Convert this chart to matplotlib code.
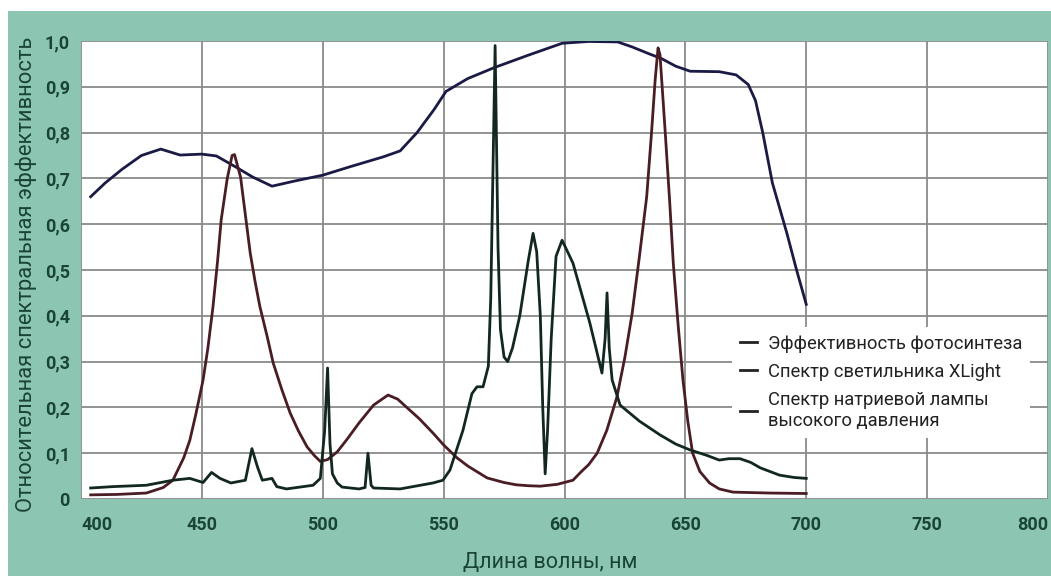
import matplotlib
matplotlib.use("Agg")
import matplotlib.pyplot as plt
from matplotlib.patches import Rectangle

# wavelength (nm) / relative values
photo_nm = [404, 410, 417, 425, 433, 441, 450, 456, 464, 471, 479, 489, 500, 511, 525, 532,
            539, 546, 551, 560, 571, 585, 599, 610, 622, 628, 635, 640, 646, 652, 664, 671,
            676, 679, 682, 686, 692, 696, 700]
photo_val = [0.66, 0.69, 0.72, 0.75, 0.764, 0.751, 0.753, 0.749, 0.725, 0.703, 0.683, 0.695,
             0.707, 0.725, 0.747, 0.760, 0.80, 0.85, 0.89, 0.918, 0.942, 0.969, 0.995, 0.999,
             0.998, 0.987, 0.972, 0.962, 0.945, 0.934, 0.933, 0.926, 0.905, 0.87, 0.80, 0.69,
             0.58, 0.50, 0.425]

xlight_nm = [404, 415, 427, 434, 438, 442.5, 445, 447.5, 450.5, 452.5, 454.6, 456.5, 458,
             460.5, 462.5, 463.5, 466, 468, 470, 472, 474, 477, 479.5, 483, 486.5, 490, 493.5,
             496.5, 499, 502, 506, 510, 515, 521, 527, 531, 536, 540, 545.6, 550, 555.5, 560,
             568, 575, 580, 585, 590, 597, 603.5, 607, 610, 613.5, 617.5, 621.7, 625, 628, 631,
             634, 636, 637.5, 638.7, 639.5, 641.6, 643.5, 645, 647, 649, 651, 653, 656, 660,
             664, 669.7, 685, 700]
xlight_val = [0.009, 0.010, 0.013, 0.025, 0.041, 0.09, 0.128, 0.185, 0.26, 0.33, 0.42, 0.52,
              0.61, 0.70, 0.750, 0.752, 0.703, 0.62, 0.537, 0.475, 0.42, 0.355, 0.297, 0.24,
              0.188, 0.148, 0.114, 0.095, 0.082, 0.086, 0.103, 0.13, 0.166, 0.205, 0.227,
              0.218, 0.194, 0.175, 0.144, 0.118, 0.09, 0.072, 0.046, 0.036, 0.031, 0.029,
              0.028, 0.032, 0.041, 0.06, 0.075, 0.10, 0.15, 0.223, 0.31, 0.406, 0.53, 0.66,
              0.80, 0.915, 0.985, 0.97, 0.806, 0.65, 0.515, 0.38, 0.26, 0.17, 0.10, 0.06, 0.035,
              0.022, 0.015, 0.013, 0.012]

sodium_nm = [404, 413, 427, 438, 445, 450.5, 454, 457.5, 462, 468, 470.7, 473, 475, 479, 481,
             485, 496, 499, 500.8, 502, 503, 504, 506, 508, 515, 517.5, 518.7, 520, 521, 532,
             545.6, 549.7, 552.6, 558, 561.7, 563.8, 566.3, 568.5, 569.5, 571.3, 572.5, 573.5,
             575, 576.5, 578.5, 581.5, 585, 587, 588.5, 590, 591, 592, 593, 594.5, 596.5, 599,
             603.5, 610.5, 615.5, 616.8, 617.6, 618.5, 619.7, 623, 631, 639.5, 646, 652, 659,
             664, 668, 672.6, 677, 681, 689, 695, 700]
sodium_val = [0.024, 0.027, 0.030, 0.041, 0.045, 0.036, 0.058, 0.045, 0.035, 0.041, 0.11,
              0.07, 0.041, 0.045, 0.027, 0.022, 0.030, 0.045, 0.15, 0.286, 0.12, 0.055, 0.035,
              0.026, 0.022, 0.025, 0.10, 0.03, 0.024, 0.022, 0.035, 0.041, 0.063, 0.15, 0.23,
              0.245, 0.245, 0.29, 0.44, 0.99, 0.55, 0.37, 0.31, 0.30, 0.33, 0.40, 0.52, 0.58,
              0.54, 0.40, 0.20, 0.055, 0.15, 0.35, 0.53, 0.565, 0.515, 0.384, 0.275, 0.35,
              0.45, 0.33, 0.26, 0.205, 0.17, 0.14, 0.12, 0.107, 0.095, 0.085, 0.088, 0.088,
              0.08, 0.068, 0.052, 0.047, 0.045]

labels = ["Эффективность фотосинтеза", "Спектр светильника XLight",
          "Спектр натриевой лампы\nвысокого давления"]
xticks = [400, 450, 500, 550, 600, 650, 700, 750, 800]
yticks = [0, 0.1, 0.2, 0.3, 0.4, 0.5, 0.6, 0.7, 0.8, 0.9, 1.0]
ytick_labels = ["0", "0,1", "0,2", "0,3", "0,4", "0,5", "0,6", "0,7", "0,8", "0,9", "1,0"]

plt.rcParams["font.family"] = ["Roboto", "DejaVu Sans"]

TEAL = "#8cc6b3"
TXT = "#1a4436"

fig = plt.figure(figsize=(10.51, 5.76), dpi=100, facecolor="white")
fig.patches.append(Rectangle((8 / 1051, 0), 1, 1 - 11 / 576, transform=fig.transFigure,
                             facecolor=TEAL, edgecolor="none", zorder=-10))
ax = fig.add_axes([81 / 1051, 1 - 499 / 576, 967 / 1051, 458 / 576])
ax.set_facecolor("white")

ax.plot(photo_nm, photo_val, color="#1b1a45", lw=2.0, solid_joinstyle="round", label=labels[0])
ax.plot(xlight_nm, xlight_val, color="#4a1c24", lw=2.0, solid_joinstyle="round", label=labels[1])
ax.plot(sodium_nm, sodium_val, color="#12281f", lw=2.0, solid_joinstyle="round", label=labels[2])

ax.set_xlim(400, 800)
ax.set_ylim(0, 1.0)
ax.set_xticks(xticks)
ax.set_yticks(yticks)
ax.set_yticklabels(ytick_labels)
ax.tick_params(length=0, labelsize=13, labelcolor=TXT)
ax.tick_params(axis="x", pad=12)
ax.tick_params(axis="y", pad=8)
for lab in ax.get_xticklabels() + ax.get_yticklabels():
    lab.set_fontweight("bold")
xl = ax.get_xticklabels()
xl[0].set_horizontalalignment("left")
xl[-1].set_horizontalalignment("right")
ax.grid(True, color="#8a8a8a", lw=1.3)
ax.set_axisbelow(True)
for s in ax.spines.values():
    s.set_visible(False)

ax.set_xlabel("Длина волны, нм", fontsize=15.5, color=TXT)
ax.xaxis.set_label_coords(0.485, -0.115)
ax.set_ylabel("Относительная спектральная эффективность", fontsize=15.8, color=TXT)
ax.yaxis.set_label_coords(-0.046, 0.49)

leg = ax.legend(loc="upper left", bbox_to_anchor=(0.664, 0.395), fontsize=13.2,
                frameon=True, framealpha=1, edgecolor="none", facecolor="white",
                handlelength=0.95, handletextpad=0.6, labelspacing=0.55, borderpad=0.4,
                fancybox=False)
for t in leg.get_texts():
    t.set_color("#222222")
    t.set_linespacing(1.25)
for h in leg.get_lines():
    h.set_color("#222222")

fig.savefig("out.png", dpi=100, facecolor=fig.get_facecolor())
